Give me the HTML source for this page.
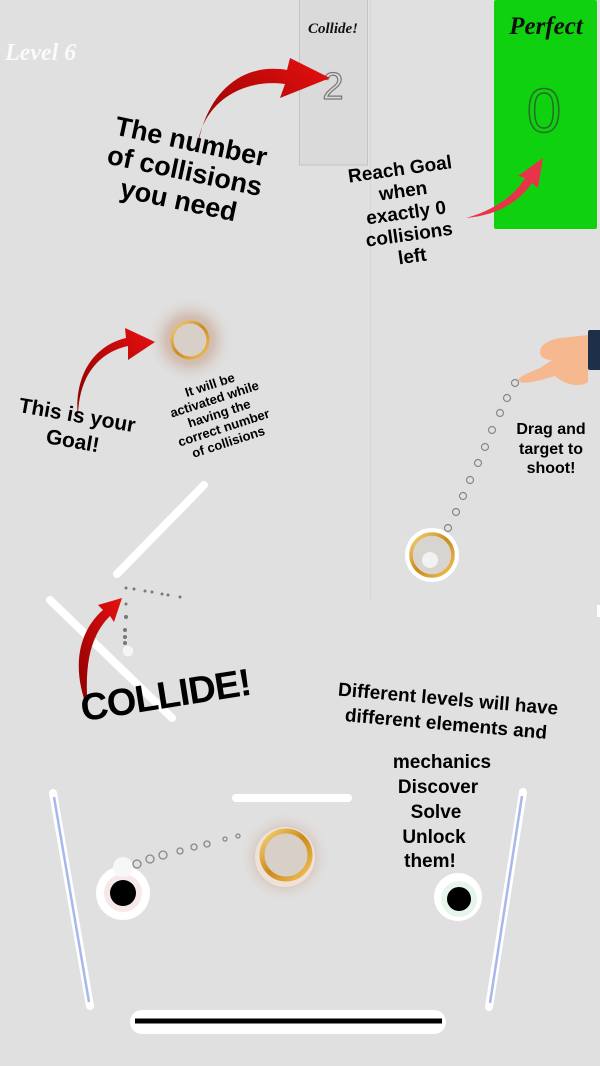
<!DOCTYPE html>
<html><head><meta charset="utf-8"><style>
html,body{margin:0;padding:0;background:#e0e0e0;}
svg{display:block}
.t{font-family:"Liberation Sans",sans-serif;font-weight:bold;fill:#000;}
.s{font-family:"Liberation Serif",serif;font-style:italic;font-weight:bold;}
</style></head><body>
<svg width="600" height="1066" viewBox="0 0 600 1066" xmlns="http://www.w3.org/2000/svg">
<defs>
<radialGradient id="halo"><stop offset="0" stop-color="#c4a290" stop-opacity="1"/><stop offset="0.55" stop-color="#d0b8aa" stop-opacity="0.8"/><stop offset="1" stop-color="#e0e0e0" stop-opacity="0"/></radialGradient>
<linearGradient id="gold" x1="0" y1="0" x2="1" y2="1"><stop offset="0" stop-color="#f6d47a"/><stop offset="0.5" stop-color="#c98a1a"/><stop offset="1" stop-color="#f3c35a"/></linearGradient>
<linearGradient id="red" x1="0" y1="1" x2="1" y2="0"><stop offset="0" stop-color="#8a0000"/><stop offset="1" stop-color="#e81010"/></linearGradient>
</defs>
<rect width="600" height="1066" fill="#e0e0e0"/>
<line x1="370.5" y1="0" x2="370.5" y2="600" stroke="#d6d6d6" stroke-width="1"/>
<rect x="597" y="605" width="3" height="12" fill="#fff"/>
<text x="5" y="60" class="s" font-size="24" fill="#fafafa">Level  6</text>
<!-- collide box -->
<rect x="299.5" y="-1" width="68" height="166" fill="#dadada" stroke="#c4c4c4"/>
<text x="333" y="33" class="s" font-size="15" text-anchor="middle" fill="#111">Collide!</text>
<text x="333" y="99" font-family="Liberation Sans" font-size="38" text-anchor="middle" fill="none" stroke="#777" stroke-width="1.2">2</text>
<!-- perfect box -->
<rect x="494" y="0" width="103" height="229" rx="2" fill="#0fd10f"/>
<text x="546" y="34" class="s" font-size="25" text-anchor="middle" fill="#111">Perfect</text>
<text x="544" y="132" font-family="Liberation Sans" font-size="62" text-anchor="middle" fill="none" stroke="#2a6a2a" stroke-width="1.5">0</text>
<!-- arrow 1 -->
<path d="M197,150 C200,105 240,78 285,84 L280,98 L330,78 L290,58 L287,70 C240,62 205,95 197,150Z" fill="url(#red)"/>
<!-- labels top -->
<g transform="rotate(12 185 170)"><text class="t" font-size="27" text-anchor="middle"><tspan x="185" y="150">The number</tspan><tspan x="185" y="180">of collisions</tspan><tspan x="185" y="210">you need</tspan></text></g>
<g transform="rotate(-8 405 205)"><text class="t" font-size="19" text-anchor="middle"><tspan x="405" y="175">Reach Goal</tspan><tspan x="405" y="197">when</tspan><tspan x="405" y="219">exactly 0</tspan><tspan x="405" y="241">collisions</tspan><tspan x="405" y="263">left</tspan></text></g>
<path d="M466,218 C495,210 515,195 525,178 L518,176 L543,158 L538,188 L532,183 C520,200 500,215 466,218Z" fill="#e8344a"/>
<!-- goal -->
<circle cx="190" cy="340" r="44" fill="url(#halo)"/>
<circle cx="190" cy="340" r="18" fill="#d8cfc8" stroke="url(#gold)" stroke-width="3"/>
<path d="M78,418 C78,375 100,352 128,346 L128,360 L155,342 L125,328 L126,338 C95,345 73,375 78,418Z" fill="url(#red)"/>
<g transform="rotate(10 75 428)"><text class="t" font-size="21" text-anchor="middle"><tspan x="75" y="422">This is your</tspan><tspan x="75" y="448">Goal!</tspan></text></g>
<g transform="rotate(-18 218 410)"><text class="t" font-size="13" text-anchor="middle"><tspan x="218" y="388">It will be</tspan><tspan x="218" y="403">activated while</tspan><tspan x="218" y="418">having the</tspan><tspan x="218" y="433">correct number</tspan><tspan x="218" y="448">of collisions</tspan></text></g>
<!-- hand -->
<rect x="588" y="330" width="14" height="40" fill="#1e2f4a" rx="2"/>
<path d="M588,335 L560,338 C548,340 540,345 540,352 C540,358 546,360 552,360 L540,368 C530,372 520,376 518,380 C520,384 530,384 555,376 C565,385 580,388 588,382Z" fill="#f6b98f"/>
<g fill="none" stroke="#888" stroke-width="1.2">
<circle cx="515" cy="383" r="3.5"/><circle cx="507" cy="398" r="3.5"/><circle cx="500" cy="413" r="3.5"/><circle cx="492" cy="430" r="3.5"/><circle cx="485" cy="447" r="3.5"/><circle cx="478" cy="463" r="3.5"/><circle cx="470" cy="480" r="3.5"/><circle cx="463" cy="496" r="3.5"/><circle cx="456" cy="512" r="3.5"/><circle cx="448" cy="528" r="3.5"/><circle cx="441" cy="545" r="3.5"/></g>
<text class="t" font-size="16" text-anchor="middle"><tspan x="551" y="434">Drag and</tspan><tspan x="551" y="454">target to</tspan><tspan x="551" y="473">shoot!</tspan></text>
<circle cx="432" cy="555" r="27" fill="#fff"/>
<circle cx="432" cy="555" r="21" fill="#d8d4d0" stroke="url(#gold)" stroke-width="3.5"/>
<circle cx="430" cy="560" r="8" fill="#f2f2f2"/>
<!-- bars -->
<line x1="204" y1="485" x2="117" y2="574" stroke="#fff" stroke-width="8" stroke-linecap="round"/>
<line x1="50" y1="600" x2="172" y2="718" stroke="#fff" stroke-width="8" stroke-linecap="round"/>
<g fill="#777"><circle cx="126" cy="588" r="1.5"/><circle cx="134" cy="589" r="1.5"/><circle cx="145" cy="591" r="1.5"/><circle cx="152" cy="592" r="1.5"/><circle cx="162" cy="594" r="1.5"/><circle cx="168" cy="595" r="1.5"/><circle cx="180" cy="597" r="1.5"/><circle cx="126" cy="604" r="1.5"/><circle cx="126" cy="617" r="2"/><circle cx="125" cy="630" r="2"/><circle cx="125" cy="637" r="2"/><circle cx="125" cy="643" r="2"/></g>
<circle cx="128" cy="651" r="6" fill="#f5f5f5" stroke="#ccc" stroke-width="0.5"/>
<path d="M88,710 C70,665 80,630 103,610 L98,605 L122,598 L114,622 L110,616 C90,636 84,665 88,710Z" fill="url(#red)"/>
<g transform="rotate(-9 165 692)"><text x="165" y="708" class="t" font-size="38" text-anchor="middle" letter-spacing="-1">COLLIDE!</text></g>
<g transform="rotate(5 445 735)"><text class="t" font-size="19" text-anchor="middle"><tspan x="445" y="705">Different levels will have</tspan><tspan x="445" y="730">different elements and</tspan></text></g>
<text class="t" font-size="19" text-anchor="middle"><tspan x="442" y="768">mechanics</tspan><tspan x="438" y="793">Discover</tspan><tspan x="436" y="818">Solve</tspan><tspan x="434" y="843">Unlock</tspan><tspan x="430" y="867">them!</tspan></text>
<!-- bottom -->
<line x1="236" y1="798" x2="348" y2="798" stroke="#fff" stroke-width="8" stroke-linecap="round"/>
<line x1="53" y1="793" x2="90" y2="1006" stroke="#fff" stroke-width="8" stroke-linecap="round"/>
<line x1="54" y1="797" x2="89" y2="1002" stroke="#a8b8ec" stroke-width="2.5"/>
<line x1="523" y1="792" x2="489" y2="1007" stroke="#fff" stroke-width="8" stroke-linecap="round"/>
<line x1="522" y1="796" x2="490" y2="1003" stroke="#a8b8ec" stroke-width="2.5"/>
<circle cx="285" cy="857" r="46" fill="url(#halo)"/>
<circle cx="285" cy="857" r="30" fill="#efe0d8"/>
<circle cx="286" cy="855" r="24" fill="#d8d0c8" stroke="url(#gold)" stroke-width="5"/>
<circle cx="123" cy="893" r="27" fill="#fff"/><circle cx="123" cy="893" r="19" fill="#f6e8e8"/><circle cx="123" cy="893" r="13" fill="#000"/>
<circle cx="458" cy="897" r="24" fill="#fff"/><circle cx="459" cy="899" r="18" fill="#e6f5ec"/><circle cx="459" cy="899" r="12" fill="#000"/>
<circle cx="123" cy="867" r="10" fill="#f7f7f7"/>
<g fill="none" stroke="#888" stroke-width="1.3"><circle cx="137" cy="864" r="4"/><circle cx="150" cy="859" r="4"/><circle cx="163" cy="855" r="4"/><circle cx="180" cy="851" r="3"/><circle cx="194" cy="847" r="3"/><circle cx="207" cy="844" r="3"/><circle cx="225" cy="839" r="2"/><circle cx="238" cy="836" r="2"/></g>
<rect x="130" y="1010" width="316" height="24" rx="12" fill="#fff"/>
<line x1="135" y1="1021" x2="442" y2="1021" stroke="#000" stroke-width="5"/>
</svg>
</body></html>
